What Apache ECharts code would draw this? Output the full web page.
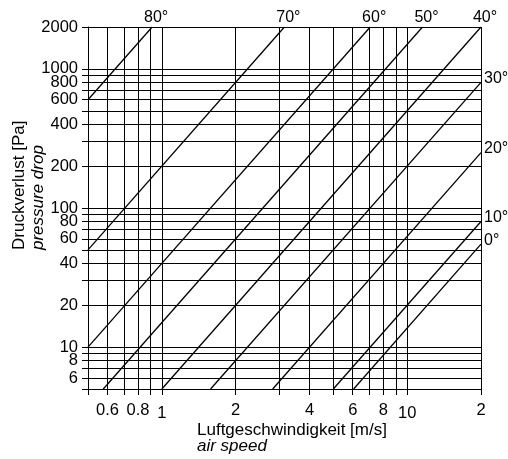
<!DOCTYPE html>
<html><head><meta charset="utf-8">
<script src="https://cdn.jsdelivr.net/npm/echarts@6/dist/echarts.min.js"></script>
<style>html,body{margin:0;padding:0;background:#fff}#c{width:508px;height:459px}</style>
</head><body><div id="c"></div>
<script>
// Data
const angleLabels = ['80°', '70°', '60°', '50°', '40°', '30°', '20°', '10°', '0°'];
const speedStart = [0.5, 0.5, 0.5, 0.577, 1, 1.58, 2.83, 5, 6.05];
const dropStart  = [600, 50, 10, 5, 5, 5, 5, 5, 5];
const speedEnd   = [0.913, 3.16, 7.07, 11.55, 20, 20, 20, 20, 20];
const dropEnd    = [2000, 2000, 2000, 2000, 2000, 800, 250, 80, 55];

const xTickValues = [0.5, 0.6, 0.7, 0.8, 0.9, 1, 2, 3, 4, 5, 6, 7, 8, 9, 10, 20];
const xLabelValues = [0.6, 0.8, 1, 2, 4, 6, 8, 10, 20];
const xLabelTexts = ['0.6', '0.8', '1', '2', '4', '6', '8', '10', '2'];
const yTickValues = [5, 6, 7, 8, 9, 10, 20, 30, 40, 50, 60, 70, 80, 90, 100, 200, 300, 400, 500, 600, 700, 800, 900, 1000, 2000];
const yLabelValues = [6, 8, 10, 20, 40, 60, 80, 100, 200, 400, 600, 800, 1000, 2000];

const FONT = "'Liberation Sans', Arial, Helvetica, sans-serif";
const xMin = 0.5, xMax = 20, yMin = 5, yMax = 2000;

const chart = echarts.init(document.getElementById('c'), null, {renderer: 'canvas'});

const series = angleLabels.map((lab, i) => {
  const atTop = dropEnd[i] >= yMax;
  return {
    type: 'line',
    name: lab,
    data: [[speedStart[i], dropStart[i]], [speedEnd[i], dropEnd[i]]],
    symbol: 'none',
    silent: true,
    lineStyle: {color: '#000', width: 1.3},
    endLabel: {
      show: true,
      formatter: lab,
      color: '#000',
      fontFamily: FONT,
      fontSize: 16,
      distance: 0,
      align: atTop ? 'center' : 'left',
      verticalAlign: atTop ? 'bottom' : 'middle',
      offset: atTop ? [4, -1] : [3, -4]
    },
    z: 5
  };
});

const option = {
  animation: false,
  backgroundColor: '#fff',
  grid: {left: 88, right: 27, top: 27, bottom: 70, containLabel: false, outerBoundsMode: 'none'},
  xAxis: {
    type: 'log', logBase: 10, min: xMin, max: xMax,
    axisLine: {show: true, lineStyle: {color: '#000', width: 1}},
    axisTick: {show: true, inside: false, length: 6, customValues: xTickValues, lineStyle: {color: '#000'}},
    splitLine: {show: true, lineStyle: {color: '#000', width: 1}},
    minorSplitLine: {show: false},
    axisLabel: {
      show: true, customValues: xLabelValues, margin: 13,
      color: '#000', fontFamily: FONT, fontSize: 16.5,
      formatter: function (v) {
        let idx = -1;
        for (let k = 0; k < xLabelValues.length; k++) { if (Math.abs(xLabelValues[k] - v) < 1e-6) idx = k; }
        const t = idx >= 0 ? xLabelTexts[idx] : String(v);
        return (Math.abs(v - 1) < 1e-6 || Math.abs(v - 10) < 1e-6) ? '{lo|' + t + '}' : t;
      },
      rich: {lo: {padding: [3, 0, 0, 0], fontFamily: FONT, fontSize: 16.5, color: '#000'}}
    }
  },
  yAxis: {
    type: 'log', logBase: 10, min: yMin, max: yMax,
    axisLine: {show: true, lineStyle: {color: '#000', width: 1}},
    axisTick: {show: true, inside: false, length: 6, customValues: yTickValues, lineStyle: {color: '#000'}},
    splitLine: {show: true, lineStyle: {color: '#000', width: 1}},
    axisLabel: {
      show: true, customValues: yLabelValues, margin: 10,
      color: '#000', fontFamily: FONT, fontSize: 16.5,
      formatter: function (v) { return String(Math.round(v)); }
    }
  },
  graphic: [
    {type: 'text', x: 19, y: 250, rotation: Math.PI / 2,
     style: {text: 'Druckverlust [Pa]', fill: '#000', font: "17px " + FONT, align: 'left', verticalAlign: 'middle'}},
    {type: 'text', x: 38, y: 250, rotation: Math.PI / 2,
     style: {text: 'pressure drop', fill: '#000', font: "italic 17px " + FONT, align: 'left', verticalAlign: 'middle'}},
    {type: 'text', x: 197, y: 430,
     style: {text: 'Luftgeschwindigkeit [m/s]', fill: '#000', font: "17px " + FONT, align: 'left', verticalAlign: 'middle'}},
    {type: 'text', x: 197, y: 446,
     style: {text: 'air speed', fill: '#000', font: "italic 17px " + FONT, align: 'left', verticalAlign: 'middle'}}
  ],
  series: series
};
chart.setOption(option);
</script>
</body></html>
